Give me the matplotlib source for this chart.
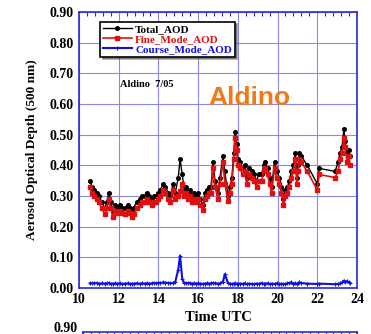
import matplotlib
matplotlib.use("Agg")
import matplotlib.pyplot as plt
from matplotlib.ticker import MultipleLocator, AutoMinorLocator

# Aldino, July 2005 - AOD at 500 nm
time_utc = [10.55, 10.65, 10.75, 10.9, 11.0, 11.15, 11.3, 11.4, 11.5, 11.6,
            11.7, 11.8, 11.9, 12.05, 12.15, 12.3, 12.45, 12.55, 12.65, 12.75,
            12.9, 13.05, 13.15, 13.3, 13.4, 13.55, 13.7, 13.8, 13.9, 14.0,
            14.1, 14.25, 14.35, 14.5, 14.6, 14.75, 14.85, 15.0, 15.09, 15.2,
            15.3, 15.4, 15.5, 15.6, 15.7, 15.8, 15.9, 16.0, 16.1, 16.25,
            16.35, 16.45, 16.55, 16.65, 16.75, 16.85, 17.0, 17.1, 17.25, 17.35,
            17.5, 17.6, 17.7, 17.8, 17.86, 17.95, 18.0, 18.1, 18.25, 18.35,
            18.45, 18.55, 18.7, 18.8, 18.95, 19.05, 19.2, 19.3, 19.37, 19.5,
            19.6, 19.7, 19.85, 19.95, 20.1, 20.2, 20.3, 20.4, 20.5, 20.6,
            20.7, 20.8, 20.9, 20.97, 21.05, 21.1, 21.2, 21.5, 22.0, 22.1,
            22.9, 23.05, 23.15, 23.25, 23.35, 23.4, 23.5, 23.6, 23.65]

total_aod = [0.35, 0.33, 0.32, 0.31, 0.30, 0.28, 0.26, 0.28, 0.31, 0.28,
             0.25, 0.27, 0.26, 0.27, 0.26, 0.26, 0.27, 0.26, 0.25, 0.26,
             0.28, 0.29, 0.30, 0.30, 0.31, 0.30, 0.29, 0.30, 0.30, 0.31,
             0.32, 0.34, 0.33, 0.31, 0.30, 0.34, 0.31, 0.36, 0.42, 0.37,
             0.32, 0.33, 0.31, 0.32, 0.30, 0.31, 0.30, 0.31, 0.29, 0.27,
             0.31, 0.32, 0.33, 0.33, 0.41, 0.35, 0.31, 0.36, 0.43, 0.38,
             0.30, 0.33, 0.36, 0.44, 0.51, 0.47, 0.42, 0.41, 0.39, 0.40,
             0.36, 0.39, 0.38, 0.37, 0.35, 0.37, 0.37, 0.40, 0.41, 0.39,
             0.36, 0.33, 0.41, 0.38, 0.36, 0.33, 0.29, 0.32, 0.33, 0.35,
             0.38, 0.40, 0.44, 0.36, 0.40, 0.44, 0.43, 0.40, 0.34, 0.39,
             0.38, 0.41, 0.44, 0.46, 0.52, 0.48, 0.44, 0.45, 0.43]

fine_aod = [0.33, 0.31, 0.30, 0.29, 0.28, 0.26, 0.24, 0.26, 0.29, 0.26,
            0.23, 0.25, 0.245, 0.25, 0.245, 0.24, 0.25, 0.245, 0.23, 0.24,
            0.26, 0.27, 0.28, 0.28, 0.29, 0.28, 0.27, 0.28, 0.28, 0.29,
            0.30, 0.32, 0.31, 0.29, 0.28, 0.32, 0.29, 0.30, 0.315, 0.34,
            0.30, 0.31, 0.29, 0.30, 0.28, 0.29, 0.28, 0.29, 0.27, 0.255,
            0.29, 0.30, 0.31, 0.31, 0.39, 0.33, 0.29, 0.34, 0.41, 0.34,
            0.285, 0.31, 0.34, 0.42, 0.49, 0.45, 0.40, 0.39, 0.37, 0.38,
            0.34, 0.37, 0.36, 0.35, 0.33, 0.35, 0.35, 0.38, 0.39, 0.37,
            0.34, 0.31, 0.39, 0.36, 0.34, 0.31, 0.27, 0.30, 0.31, 0.33,
            0.36, 0.38, 0.42, 0.34, 0.38, 0.42, 0.41, 0.38, 0.32, 0.37,
            0.36, 0.38, 0.42, 0.44, 0.49, 0.46, 0.41, 0.43, 0.40]

coarse_aod = [0.015, 0.015, 0.015, 0.016, 0.014, 0.015, 0.014, 0.015, 0.016, 0.013,
              0.014, 0.015, 0.014, 0.015, 0.013, 0.014, 0.015, 0.014, 0.013, 0.014,
              0.015, 0.014, 0.015, 0.014, 0.015, 0.014, 0.015, 0.016, 0.015, 0.017,
              0.016, 0.018, 0.017, 0.016, 0.015, 0.016, 0.020, 0.060, 0.105, 0.030,
              0.015, 0.016, 0.015, 0.016, 0.014, 0.015, 0.014, 0.015, 0.014, 0.013,
              0.014, 0.015, 0.014, 0.015, 0.016, 0.015, 0.014, 0.015, 0.020, 0.045,
              0.016, 0.014, 0.013, 0.014, 0.015, 0.014, 0.013, 0.014, 0.013, 0.015,
              0.012, 0.014, 0.013, 0.012, 0.014, 0.013, 0.016, 0.013, 0.014, 0.015,
              0.012, 0.014, 0.013, 0.015, 0.013, 0.014, 0.012, 0.013, 0.015, 0.016,
              0.018, 0.014, 0.016, 0.013, 0.015, 0.018, 0.016, 0.014, 0.013, 0.014,
              0.012, 0.013, 0.015, 0.018, 0.024, 0.020, 0.022, 0.018, 0.015]

x_ticks = [10, 12, 14, 16, 18, 20, 22, 24]
y_ticks = [0.0, 0.1, 0.2, 0.3, 0.4, 0.5, 0.6, 0.7, 0.8, 0.9]

plt.rcParams['font.family'] = ['Liberation Serif', 'DejaVu Serif']
plt.rcParams['font.weight'] = 'bold'
plt.rcParams['axes.labelweight'] = 'bold'

axis_blue = '#2a2ad8'
grid_blue = '#8a8ae6'

fig = plt.figure(figsize=(3.71, 3.34), dpi=100)
ax = fig.add_axes([0.213, 0.138, 0.749, 0.826])

ax.plot(time_utc, total_aod, color='black', lw=1.0, marker='o', ms=2.6,
        label='Total_AOD', zorder=3)
ax.plot(time_utc, fine_aod, color='#e01010', lw=1.2, marker='s', ms=2.8,
        label='Fine_Mode_AOD', zorder=4)
ax.plot(time_utc, coarse_aod, color='#1010e0', lw=1.5, marker='+', ms=3,
        mew=0.8, label='Course_Mode_AOD', zorder=3)

ax.set_xlim(10, 24)
ax.set_ylim(0, 0.9)
ax.set_xticks(x_ticks)
ax.set_yticks(y_ticks)
ax.set_yticklabels(['%.2f' % v for v in y_ticks])
ax.tick_params(labelsize=10, length=0, pad=4)
ax.xaxis.set_minor_locator(AutoMinorLocator(5))
ax.tick_params(axis='x', which='minor', bottom=False, top=True,
               direction='in', length=3, color=axis_blue, width=0.8)
ax.grid(True, which='major', color=grid_blue, lw=0.8)
ax.set_axisbelow(True)
for sp in ax.spines.values():
    sp.set_color(axis_blue)
    sp.set_linewidth(1.2)

ax.set_xlabel('Time UTC', fontsize=10.5, labelpad=3)
ax.set_ylabel('Aerosol Optical Depth (500 nm)', fontsize=9.5, labelpad=8)

leg = ax.legend(loc='upper left', bbox_to_anchor=(0.076, 0.965), fontsize=8,
                frameon=True, fancybox=False, shadow=True, handlelength=2.6,
                borderpad=0.25, labelspacing=0.0, handletextpad=0.3,
                borderaxespad=0)
leg.get_frame().set_edgecolor('black')
leg.get_frame().set_linewidth(1.2)
for txt, col in zip(leg.get_texts(), ['black', '#e01010', '#1010e0']):
    txt.set_color(col)

ax.text(12.05, 0.665, 'Aldino  7/05', fontsize=7.5, va='center', ha='left')
ax.text(18.6, 0.62, 'Aldino', fontsize=19, color='#f07a1a', ha='center',
        va='center', family='Liberation Sans', fontweight='bold')

# top of the next panel below
ax2 = fig.add_axes([0.224, -0.5, 0.738, 0.506])
ax2.set_xlim(10, 24)
ax2.set_ylim(0, 0.9)
ax2.set_yticks([])
ax2.set_xticks([])
ax2.xaxis.set_minor_locator(MultipleLocator(0.4))
ax2.tick_params(axis='x', which='minor', bottom=False, top=True,
                direction='in', length=3, color=axis_blue, width=0.8)
for sp in ax2.spines.values():
    sp.set_color(axis_blue)
    sp.set_linewidth(1.2)
ax2.annotate('0.90', xy=(0, 1), xycoords='axes fraction', xytext=(-4, -2),
             textcoords='offset points', ha='right', va='bottom', fontsize=10)

fig.savefig('out.png', dpi=100)
